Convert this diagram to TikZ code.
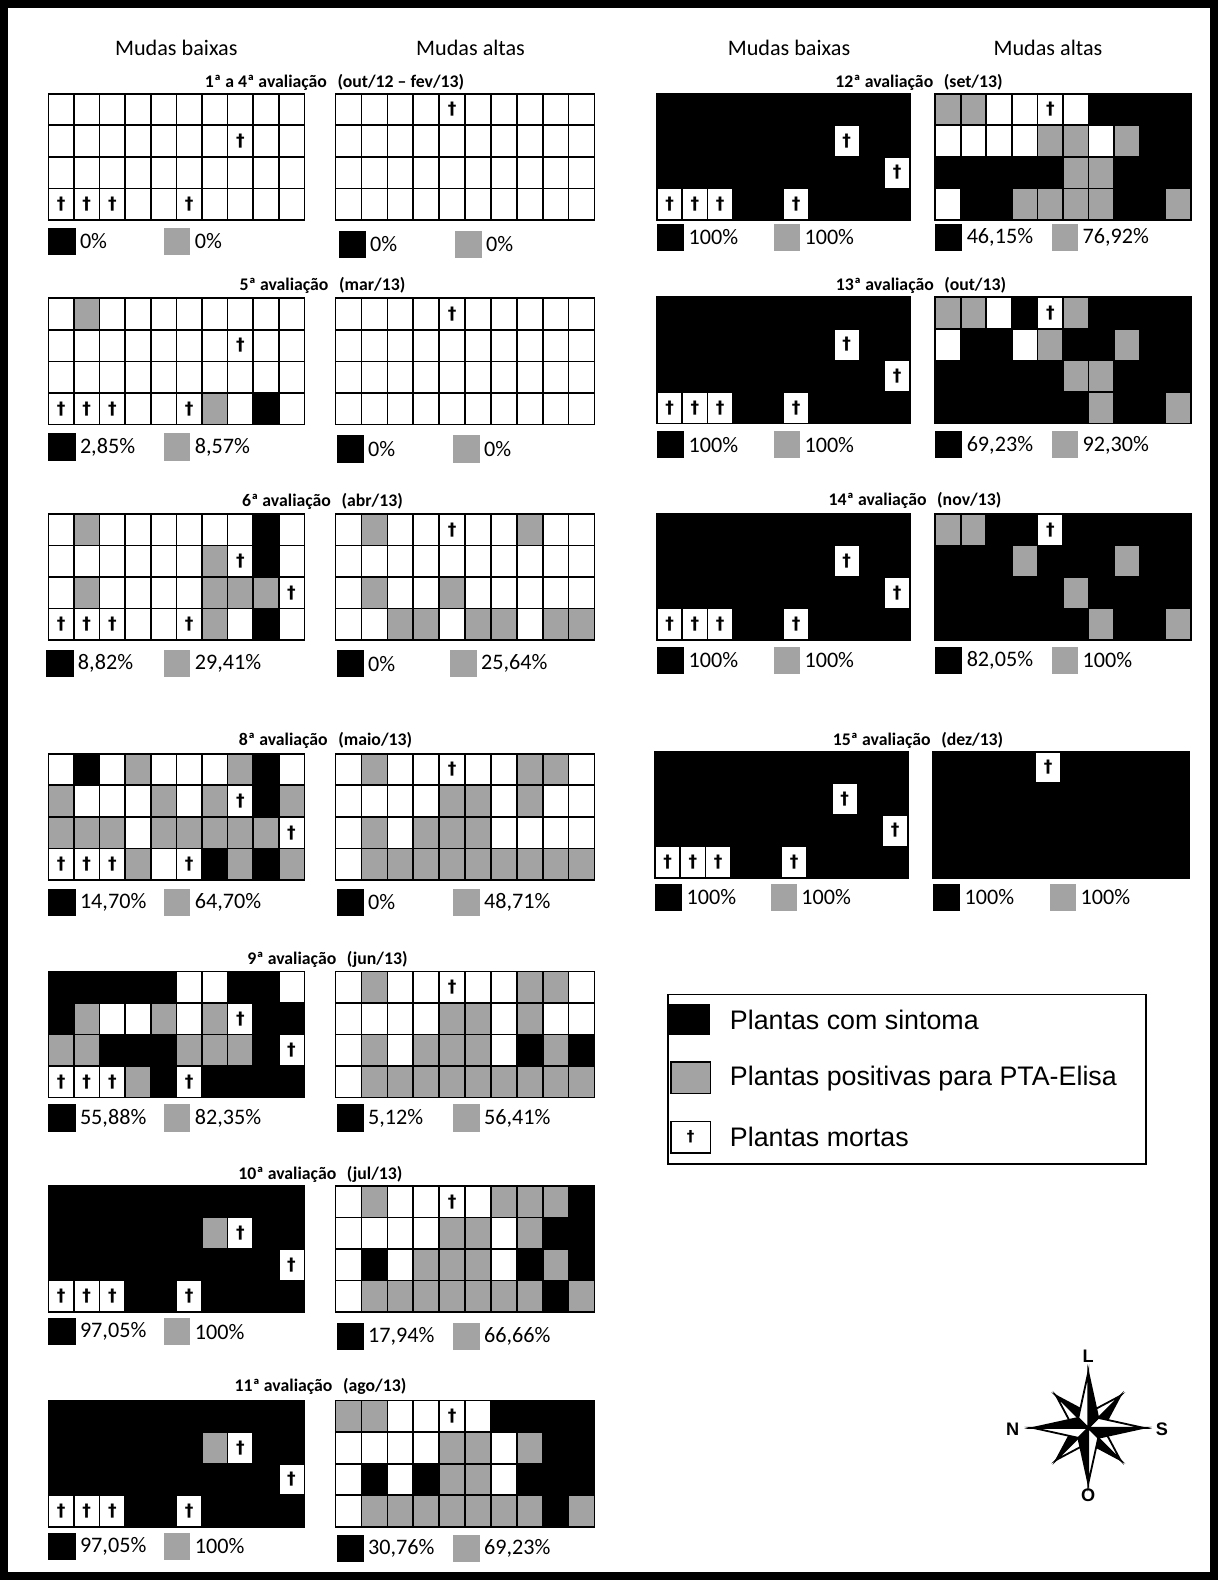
\documentclass[tikz,border=0pt]{standalone}
\usepackage{fontspec}
\setmainfont{Carlito}
\newfontfamily\arialf{Liberation Sans}
\newfontfamily\dejaf{DejaVu Sans}
\definecolor{cW}{gray}{1}
\definecolor{cD}{gray}{1}
\definecolor{cG}{gray}{0.64}
\definecolor{cB}{gray}{0}
\tikzset{
  hdr/.style={font=\fontsize{11}{13}\selectfont, inner sep=0pt},
  ttl/.style={font=\fontsize{8.8}{10}\selectfont\bfseries, inner sep=0pt},
  pct/.style={font=\fontsize{11}{13}\selectfont, anchor=west, inner sep=0pt},
  dag/.style={font=\dejaf\bfseries\fontsize{8.5}{9}\selectfont, inner sep=0pt},
  gridline/.style={draw=black, line width=0.8pt},
  legtxt/.style={font=\arialf\fontsize{13.3}{15}\selectfont, anchor=west, inner sep=0pt},
  comp/.style={font=\arialf\bfseries\fontsize{9}{10}\selectfont, inner sep=0pt},
  rosearm/.style={line width=0.9pt, line join=miter},
}
\newcommand\mkD[2]{\node[dag] at ({#1},{#2}) {†};}
\newcommand\mkW[2]{}
\newcommand\mkG[2]{}
\newcommand\mkB[2]{}
% #1 x0, #2 y0, #3 cell width, #4-#7 rows
\newcommand\cellgrid[7]{%
  \foreach \rw [count=\r from 0] in {{#4},{#5},{#6},{#7}} {%
    \foreach \c [count=\k from 0] in \rw {%
      \path[gridline, fill=c\c] ({#1+\k*#3},{#2+\r*31.3}) rectangle ++(#3,31.3);
      \csname mk\c\endcsname{#1+\k*#3+#3/2}{#2+\r*31.3+15.65}%
    }%
  }%
}
% #1 black x, #2 y, #3 text, #4 gray x, #5 text
\newcommand\pctrow[5]{%
  \fill[cB] (#1,#2) rectangle ++(27,27);
  \node[pct] at (#1+31,#2+13.5) {#3};
  \fill[cG] (#4,#2) rectangle ++(26,27);
  \node[pct] at (#4+30,#2+13.5) {#5};
}
\begin{document}
\begin{tikzpicture}[x=0.5pt,y=-0.5pt]
\useasboundingbox (0,0) rectangle (1209,1568);
\draw[line width=4pt] (4,4) rectangle (1205,1564);

% column headers
\node[hdr] (h1) at (175,48) {Mudas baixas};
\node[hdr] (h2) at (467,48) {Mudas altas};
\node[hdr] (h3) at (783,48) {Mudas baixas};
\node[hdr] (h4) at (1040,48) {Mudas altas};

% panel titles
\node[ttl] (t1) at (332,82) {1ª a 4ª avaliação\hspace{0.6em}(out/12 – fev/13)};
\node[ttl] (t5) at (320,283) {5ª avaliação\hspace{0.6em}(mar/13)};
\node[ttl] (t6) at (320,498) {6ª avaliação\hspace{0.6em}(abr/13)};
\node[ttl] (t8) at (323,735) {8ª avaliação\hspace{0.6em}(maio/13)};
\node[ttl] (t9) at (325,952) {9ª avaliação\hspace{0.6em}(jun/13)};
\node[ttl] (t10) at (318,1165) {10ª avaliação\hspace{0.6em}(jul/13)};
\node[ttl] (t11) at (318,1376) {11ª avaliação\hspace{0.6em}(ago/13)};
\node[ttl] (t12) at (912,82) {12ª avaliação\hspace{0.6em}(set/13)};
\node[ttl] (t13) at (914,283) {13ª avaliação\hspace{0.6em}(out/13)};
\node[ttl] (t14) at (908,497) {14ª avaliação\hspace{0.6em}(nov/13)};
\node[ttl] (t15) at (911,735) {15ª avaliação\hspace{0.6em}(dez/13)};

% ---- 1a a 4a
\cellgrid{48}{93}{25.4}{W,W,W,W,W,W,W,W,W,W}{W,W,W,W,W,W,W,D,W,W}{W,W,W,W,W,W,W,W,W,W}{D,D,D,W,W,D,W,W,W,W}
\cellgrid{333}{93}{25.7}{W,W,W,W,D,W,W,W,W,W}{W,W,W,W,W,W,W,W,W,W}{W,W,W,W,W,W,W,W,W,W}{W,W,W,W,W,W,W,W,W,W}
\pctrow{48}{226}{0\%}{163}{0\%}
\pctrow{336}{229}{0\%}{452}{0\%}

% ---- 5a
\cellgrid{48}{296}{25.4}{W,G,W,W,W,W,W,W,W,W}{W,W,W,W,W,W,W,D,W,W}{W,W,W,W,W,W,W,W,W,W}{D,D,D,W,W,D,G,W,B,W}
\cellgrid{333}{296}{25.7}{W,W,W,W,D,W,W,W,W,W}{W,W,W,W,W,W,W,W,W,W}{W,W,W,W,W,W,W,W,W,W}{W,W,W,W,W,W,W,W,W,W}
\pctrow{48}{430}{2,85\%}{163}{8,57\%}
\pctrow{334}{432}{0\%}{450}{0\%}

% ---- 6a
\cellgrid{48}{510}{25.4}{W,G,W,W,W,W,W,W,B,W}{W,W,W,W,W,W,G,D,B,W}{W,G,W,W,W,W,G,G,G,D}{D,D,D,W,W,D,G,W,B,W}
\cellgrid{333}{510}{25.7}{W,G,W,W,D,W,W,G,W,W}{W,W,W,W,W,W,W,W,W,W}{W,G,W,W,G,W,W,W,W,W}{W,W,G,G,W,G,G,W,G,G}
\pctrow{46}{645}{8,82\%}{163}{29,41\%}
\pctrow{334}{645}{0\%}{447}{25,64\%}

% ---- 8a
\cellgrid{48}{748}{25.4}{W,B,W,G,W,W,W,G,B,W}{G,W,W,W,G,W,G,D,B,G}{G,G,G,W,G,G,G,G,G,D}{D,D,D,G,W,D,B,G,B,G}
\cellgrid{333}{748}{25.7}{W,G,W,W,D,W,W,G,G,W}{W,W,W,W,G,G,W,G,W,W}{W,G,W,G,G,G,W,W,W,W}{W,G,G,G,G,G,G,G,G,G}
\pctrow{48}{882}{14,70\%}{163}{64,70\%}
\pctrow{334}{882}{0\%}{450}{48,71\%}

% ---- 9a
\cellgrid{48}{964}{25.4}{B,B,B,B,B,W,W,B,B,W}{B,G,W,W,G,W,G,D,B,B}{G,G,B,B,B,G,G,G,B,D}{D,D,D,G,B,D,B,B,B,B}
\cellgrid{333}{964}{25.7}{W,G,W,W,D,W,W,G,G,W}{W,W,W,W,G,G,W,G,W,W}{W,G,W,G,G,G,W,B,G,B}{W,G,G,G,G,G,G,G,G,G}
\pctrow{48}{1096}{55,88\%}{163}{82,35\%}
\pctrow{334}{1096}{5,12\%}{450}{56,41\%}

% ---- 10a
\cellgrid{48}{1177}{25.4}{B,B,B,B,B,B,B,B,B,B}{B,B,B,B,B,B,G,D,B,B}{B,B,B,B,B,B,B,B,B,D}{D,D,D,B,B,D,B,B,B,B}
\cellgrid{333}{1177}{25.7}{W,G,W,W,D,W,G,G,G,B}{W,W,W,W,G,G,W,G,B,B}{W,B,W,G,G,G,W,B,G,B}{W,G,G,G,G,G,G,G,B,G}
\pctrow{48}{1308}{97,05\%}{163}{100\%}
\pctrow{334}{1313}{17,94\%}{450}{66,66\%}

% ---- 11a
\cellgrid{48}{1390}{25.4}{B,B,B,B,B,B,B,B,B,B}{B,B,B,B,B,B,G,D,B,B}{B,B,B,B,B,B,B,B,B,D}{D,D,D,B,B,D,B,B,B,B}
\cellgrid{333}{1390}{25.7}{G,G,W,W,D,W,B,B,B,B}{W,W,W,W,G,G,W,G,B,B}{W,B,W,B,G,G,W,B,B,B}{W,G,G,G,G,G,G,G,B,G}
\pctrow{48}{1521}{97,05\%}{163}{100\%}
\pctrow{334}{1523}{30,76\%}{450}{69,23\%}

% ---- 12a
\cellgrid{652}{93}{25.1}{B,B,B,B,B,B,B,B,B,B}{B,B,B,B,B,B,B,D,B,B}{B,B,B,B,B,B,B,B,B,D}{D,D,D,B,B,D,B,B,B,B}
\cellgrid{928}{93}{25.4}{G,G,W,W,D,W,B,B,B,B}{W,W,W,W,G,G,W,G,B,B}{B,B,B,B,B,G,G,B,B,B}{W,B,B,G,G,G,G,B,B,G}
\pctrow{652}{222}{100\%}{768}{100\%}
\pctrow{928}{222}{46,15\%}{1044}{76,92\%}

% ---- 13a
\cellgrid{652}{295}{25.1}{B,B,B,B,B,B,B,B,B,B}{B,B,B,B,B,B,B,D,B,B}{B,B,B,B,B,B,B,B,B,D}{D,D,D,B,B,D,B,B,B,B}
\cellgrid{928}{295}{25.4}{G,G,W,B,D,G,B,B,B,B}{W,B,B,W,G,B,B,G,B,B}{B,B,B,B,B,G,G,B,B,B}{B,B,B,B,B,B,G,B,B,G}
\pctrow{652}{428}{100\%}{768}{100\%}
\pctrow{928}{428}{69,23\%}{1044}{92,30\%}

% ---- 14a
\cellgrid{652}{510}{25.1}{B,B,B,B,B,B,B,B,B,B}{B,B,B,B,B,B,B,D,B,B}{B,B,B,B,B,B,B,B,B,D}{D,D,D,B,B,D,B,B,B,B}
\cellgrid{928}{510}{25.4}{G,G,B,B,D,B,B,B,B,B}{B,B,B,G,B,B,B,G,B,B}{B,B,B,B,B,G,B,B,B,B}{B,B,B,B,B,B,G,B,B,G}
\pctrow{652}{642}{100\%}{768}{100\%}
\pctrow{928}{642}{82,05\%}{1044}{100\%}

% ---- 15a
\cellgrid{650}{746}{25.1}{B,B,B,B,B,B,B,B,B,B}{B,B,B,B,B,B,B,D,B,B}{B,B,B,B,B,B,B,B,B,D}{D,D,D,B,B,D,B,B,B,B}
\cellgrid{926}{746}{25.4}{B,B,B,B,D,B,B,B,B,B}{B,B,B,B,B,B,B,B,B,B}{B,B,B,B,B,B,B,B,B,B}{B,B,B,B,B,B,B,B,B,B}
\pctrow{650}{877}{100\%}{765}{100\%}
\pctrow{926}{877}{100\%}{1042}{100\%}

% ---- legend
\draw[line width=0.8pt] (663,987) rectangle (1137,1155);
\fill[cB] (663,996) rectangle (705,1027);
\filldraw[fill=cG, line width=0.8pt] (666,1054) rectangle (705,1085);
\draw[line width=0.8pt, fill=white] (666,1113) rectangle (705,1144);
\node[font=\dejaf\bfseries\fontsize{7.5}{8}\selectfont, inner sep=0pt] (lgd) at (685.5,1128.5) {†};
\node[legtxt] (l1) at (724,1012) {Plantas com sintoma};
\node[legtxt] (l2) at (724,1070) {Plantas positivas para PTA-Elisa};
\node[legtxt] (l3) at (724,1128) {Plantas mortas};

% ---- compass rose
\begin{scope}[shift={(1080,1417)}]
  \foreach \a in {45,135,225,315} {
    \filldraw[rosearm, fill=black] (0,0) -- (\a:45) -- (\a+38:16) -- cycle;
    \filldraw[rosearm, fill=white] (0,0) -- (\a:45) -- (\a-38:16) -- cycle;
  }
  \foreach \a in {0,90,180,270} {
    \filldraw[rosearm, fill=black] (0,0) -- (\a:55) -- (\a+45:14) -- cycle;
    \filldraw[rosearm, fill=white] (0,0) -- (\a:55) -- (\a-45:14) -- cycle;
  }
\end{scope}
\node[comp] (cL) at (1080,1346) {L};
\node[comp] (cN) at (1005,1418) {N};
\node[comp] (cS) at (1153,1418) {S};
\node[comp] (cO) at (1080,1484) {O};
\end{tikzpicture}
\end{document}
